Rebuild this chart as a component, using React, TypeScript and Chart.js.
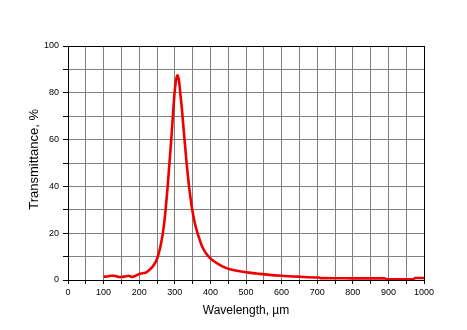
import React, { useEffect, useRef } from "react";
import { Chart, registerables } from "chart.js";

Chart.register(...registerables);

const wavelengths = [
  100, 110, 120, 130, 140, 150, 160, 170, 180, 190, 200, 210, 220, 230, 240, 250,
  260, 270, 280, 290, 295, 300, 305, 308, 312, 316, 320, 325, 332, 340, 348, 356,
  365, 375, 385, 395, 410, 425, 440, 455, 470, 500, 530, 560, 600, 650, 700, 705,
  710, 750, 800, 850, 890, 895, 930, 970, 975, 1000,
];
const transmittance = [
  1.4, 1.5, 1.8, 1.8, 1.4, 1.3, 1.5, 1.8, 1.3, 1.8, 2.6, 2.9, 3.3, 4.5, 6.2, 9,
  14.5, 24, 40, 60, 71, 81, 86.5, 87.5, 85, 79, 73, 64, 52, 40, 31, 24.5,
  19.5, 15, 12, 10, 8, 6.6, 5.4, 4.6, 4.1, 3.3, 2.8, 2.3, 1.8, 1.4, 1.1, 1.1,
  0.8, 0.75, 0.7, 0.7, 0.7, 0.35, 0.35, 0.35, 0.85, 0.85,
];
const xTitle = "Wavelength, µm";
const yTitle = "  Transmittance, %";

const FONT = "'Liberation Sans', Arial, sans-serif";

export default function App() {
  const ref = useRef<HTMLCanvasElement | null>(null);
  useEffect(() => {
    document.body.style.margin = "0";
    const canvas = ref.current!;
    const chart = new Chart(canvas, {
      type: "line",
      data: {
        datasets: [
          {
            data: wavelengths.map((w, i) => ({ x: w, y: transmittance[i] })),
            borderColor: "#ee0000",
            borderWidth: 2.6,
            pointRadius: 0,
            fill: false,
            cubicInterpolationMode: "monotone",
          },
        ],
      },
      options: {
        animation: false,
        responsive: false,
        devicePixelRatio: 1,
        layout: { padding: { top: 46, right: 43, left: 0, bottom: 0 } },
        plugins: { legend: { display: false }, tooltip: { enabled: false } },
        scales: {
          x: {
            type: "linear",
            min: 0,
            max: 1000,
            afterFit: (s: any) => {
              s.height = 50;
            },
            ticks: {
              stepSize: 50,
              autoSkip: false,
              maxRotation: 0,
              padding: 3,
              color: "#000",
              font: { family: FONT, size: 9 },
              callback: (v: any) => (Number(v) % 100 === 0 ? String(v) : ""),
            },
            grid: {
              color: (c: any) =>
                c.tick && (c.tick.value === 0 || c.tick.value === 1000) ? "#000" : "#808080",
              lineWidth: 1,
              tickLength: 4,
              tickColor: "#000",
            },
            border: { color: "#000", width: 1 },
            title: {
              display: true,
              text: xTitle,
              color: "#000",
              font: { family: FONT, size: 12 },
              padding: { top: 0, bottom: 12 },
            },
          },
          y: {
            min: 0,
            max: 100,
            afterFit: (s: any) => {
              s.width = 68;
            },
            ticks: {
              stepSize: 10,
              autoSkip: false,
              padding: 4,
              color: "#000",
              font: { family: FONT, size: 9 },
              callback: (v: any) => (Number(v) % 20 === 0 ? String(v) : ""),
            },
            grid: {
              color: (c: any) =>
                c.tick && (c.tick.value === 0 || c.tick.value === 100) ? "#000" : "#808080",
              lineWidth: 1,
              tickLength: 5,
              tickColor: "#000",
            },
            border: { color: "#000", width: 1 },
            title: {
              display: true,
              text: yTitle,
              color: "#000",
              font: { family: FONT, size: 13 },
              padding: { top: 27, bottom: 0 },
            },
          },
        },
      },
    });
    return () => chart.destroy();
  }, []);
  return (
    <div style={{ position: "absolute", left: 0, top: 0, width: 467, height: 330, background: "#fff" }}>
      <canvas ref={ref} width={467} height={330} style={{ display: "block", width: 467, height: 330 }} />
    </div>
  );
}
